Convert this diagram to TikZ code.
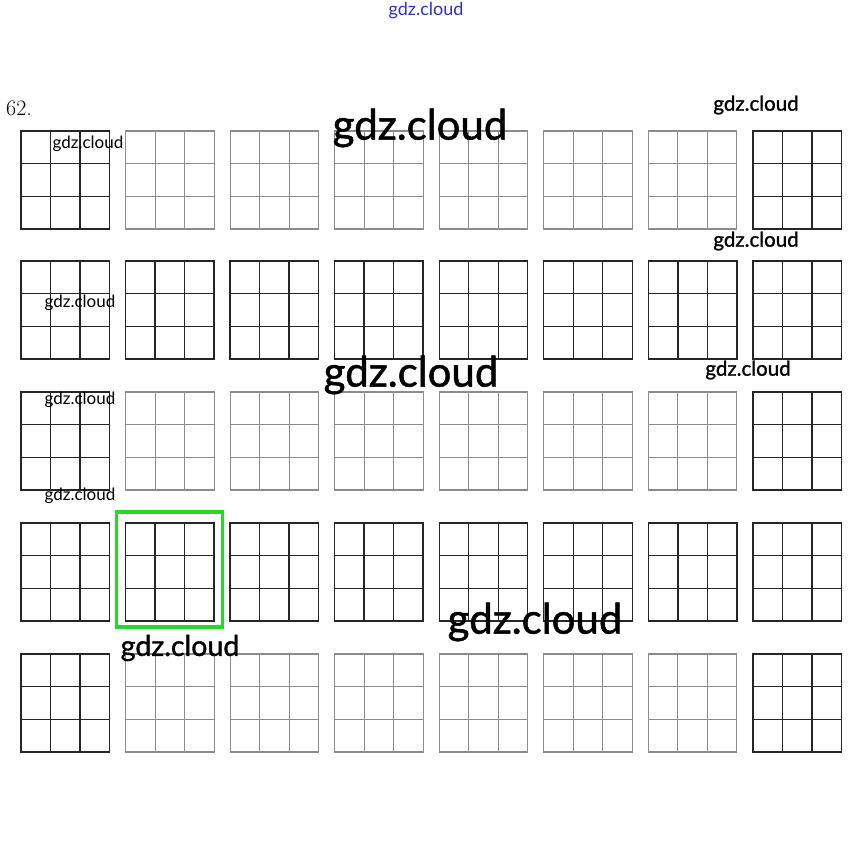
\documentclass[tikz,border=0pt]{standalone}
\usepackage{fontspec}
\newfontfamily\wmfont{Lato}
\newfontfamily\wmsemi{Lato}[FakeBold=1.2]
\definecolor{gridgreen}{RGB}{40,215,40}
\definecolor{wmblue}{RGB}{50,50,190}
\tikzset{
  gridline/.style={draw=black!85, line width=1.4pt},
  fadedline/.style={draw=black!45, line width=1.1pt},
  wm/.style={text=black, inner sep=0pt},
}
\newcommand{\threegrid}[3]{% x, y, style
  \draw[#3] (#1,#2) rectangle ++(88.5,98);
  \draw[#3] (#1+29.5,#2) -- ++(0,98) (#1+59,#2) -- ++(0,98);
  \draw[#3] (#1,#2+32.67) -- ++(88.5,0) (#1,#2+65.33) -- ++(88.5,0);
}
\begin{document}
\begin{tikzpicture}[x=1pt,y=-1pt]
\useasboundingbox[fill=white] (0,0) rectangle (853,851);
% grids
\foreach \r/\yy in {0/131,1/261,2/392,3/523,4/654}{
  \foreach \c in {0,...,7}{
    \pgfmathsetmacro{\xx}{21+104.55*\c}
    \pgfmathtruncatemacro{\faded}{(mod(\r,2)==0 && \c>0 && \c<7) ? 1 : 0}
    \ifnum\faded=1
      \threegrid{\xx}{\yy}{fadedline}
    \else
      \threegrid{\xx}{\yy}{gridline}
    \fi
  }
}
% green highlight
\node[draw=gridgreen, line width=3.2pt, minimum width=106pt, minimum height=115pt, inner sep=0pt] (hl) at (169.5,569.5) {};
% labels
\node[inner sep=0pt, font=\fontsize{22}{22}\selectfont] (num) at (19,108) {62.};
\node[wm, text=wmblue, font=\wmfont\fontsize{18}{18}\selectfont] (top) at (426,11) {gdz.cloud};
\node[wm, font=\wmsemi\fontsize{42}{42}\selectfont] (w1) at (420,128) {gdz.cloud};
\node[wm, font=\wmsemi\fontsize{42}{42}\selectfont] (w2) at (411,375) {gdz.cloud};
\node[wm, font=\wmsemi\fontsize{42}{42}\selectfont] (w3) at (535,622) {gdz.cloud};
\node[wm, font=\wmsemi\fontsize{28.5}{28.5}\selectfont] (w4) at (180,648) {gdz.cloud};
\node[wm, font=\wmsemi\fontsize{20.5}{20.5}\selectfont] (w5) at (756,105) {gdz.cloud};
\node[wm, font=\wmsemi\fontsize{20.5}{20.5}\selectfont] (w6) at (756,241) {gdz.cloud};
\node[wm, font=\wmsemi\fontsize{20.5}{20.5}\selectfont] (w7) at (748,370) {gdz.cloud};
\node[wm, font=\wmfont\fontsize{17}{17}\selectfont] (w8) at (88,144) {gdz.cloud};
\node[wm, font=\wmfont\fontsize{17}{17}\selectfont] (w9) at (80,303) {gdz.cloud};
\node[wm, font=\wmfont\fontsize{17}{17}\selectfont] (w10) at (80,400) {gdz.cloud};
\node[wm, font=\wmfont\fontsize{17}{17}\selectfont] (w11) at (80,496) {gdz.cloud};
\end{tikzpicture}
\end{document}
